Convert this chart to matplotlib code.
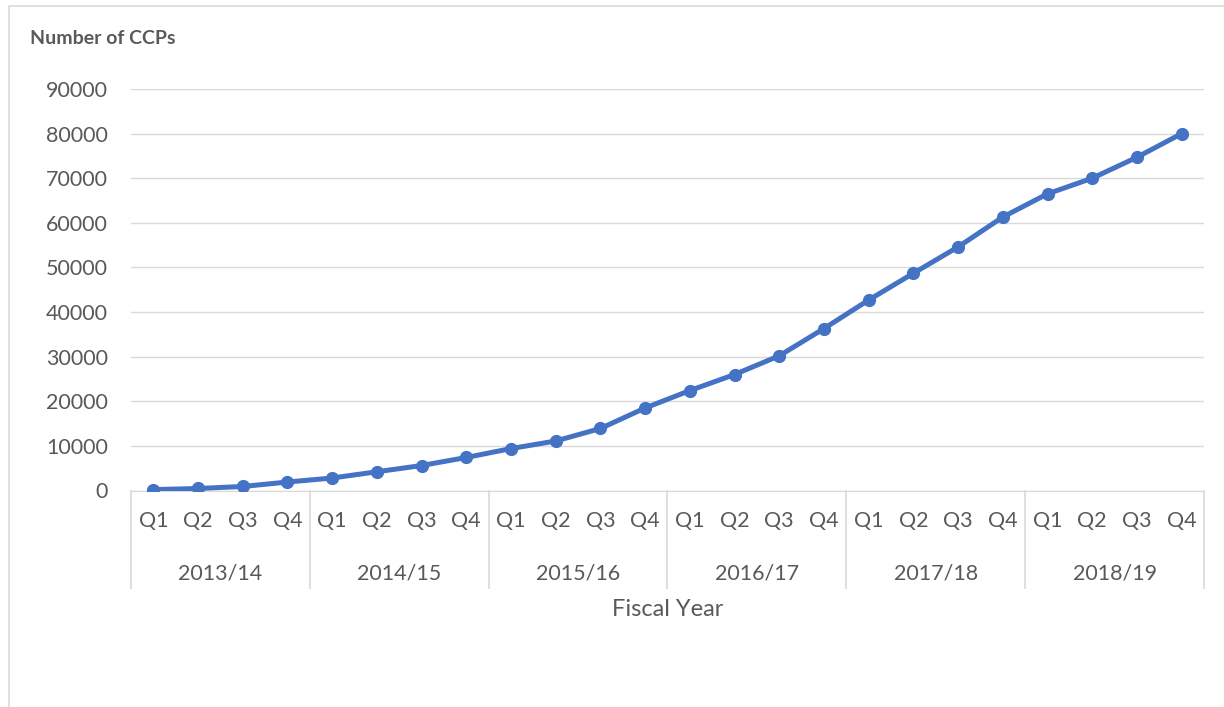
import numpy as np
import matplotlib.pyplot as plt
from matplotlib.patches import Rectangle
from matplotlib.transforms import blended_transform_factory

years = ['2013/14', '2014/15', '2015/16', '2016/17', '2017/18', '2018/19']
quarters = ['Q1', 'Q2', 'Q3', 'Q4']
ccps = [200, 450, 900, 1900,
        2800, 4200, 5600, 7400,
        9400, 11100, 13900, 18500,
        22400, 26000, 30200, 36300,
        42700, 48700, 54600, 61300,
        66500, 70000, 74700, 80000]

plt.rcParams['font.family'] = ['Lato', 'DejaVu Sans']
grey = '#595959'

fig = plt.figure(figsize=(12.24, 7.07), dpi=100)
fig.add_artist(Rectangle((9 / 1224, -0.1), 1.2, 1.1 - 6 / 707, transform=fig.transFigure,
                         facecolor='none', edgecolor='#d9d9d9', linewidth=1.2))

ax = fig.add_axes([131 / 1224, 1 - 490.5 / 707, (1204 - 131) / 1224, (490.5 - 89) / 707])
x = np.arange(len(ccps))
ax.plot(x, ccps, color='#4472c4', linewidth=3.6, marker='o', markersize=8.5, zorder=3)

ax.set_xlim(-0.5, len(ccps) - 0.5)
ax.set_ylim(0, 90000)
ax.set_yticks(np.arange(0, 90001, 10000))
ax.yaxis.grid(True, color='#d9d9d9', linewidth=1)
ax.set_axisbelow(True)
for s in ['top', 'right', 'left']:
    ax.spines[s].set_visible(False)
ax.spines['bottom'].set_color('#d9d9d9')
ax.tick_params(axis='y', length=0, pad=16.5, labelsize=15.5, labelcolor=grey)

ax.set_xticks(x)
ax.set_xticklabels(quarters * len(years))
ax.tick_params(axis='x', length=0, pad=15, labelsize=15.5, labelcolor=grey)

# multi-level category axis
trans = blended_transform_factory(ax.transData, ax.transAxes)
depth = (588 - 490.5) / (490.5 - 89)
for k in range(len(years) + 1):
    ax.plot([k * 4 - 0.5, k * 4 - 0.5], [0, -depth], transform=trans,
            color='#d9d9d9', linewidth=1.2, clip_on=False)
for k, yr in enumerate(years):
    ax.text(k * 4 + 1.5, -(573 - 490.5) / (490.5 - 89), yr, transform=trans,
            ha='center', va='center', fontsize=15.5, color=grey)

ax.text(0.5, -(610 - 490.5) / (490.5 - 89), 'Fiscal Year', transform=ax.transAxes,
        ha='center', va='center', fontsize=17, color=grey)
fig.text(30 / 1224, 1 - 38 / 707, 'Number of CCPs', ha='left', va='center',
         fontsize=14, fontweight='bold', color=grey)

fig.savefig('out.png', dpi=100)
